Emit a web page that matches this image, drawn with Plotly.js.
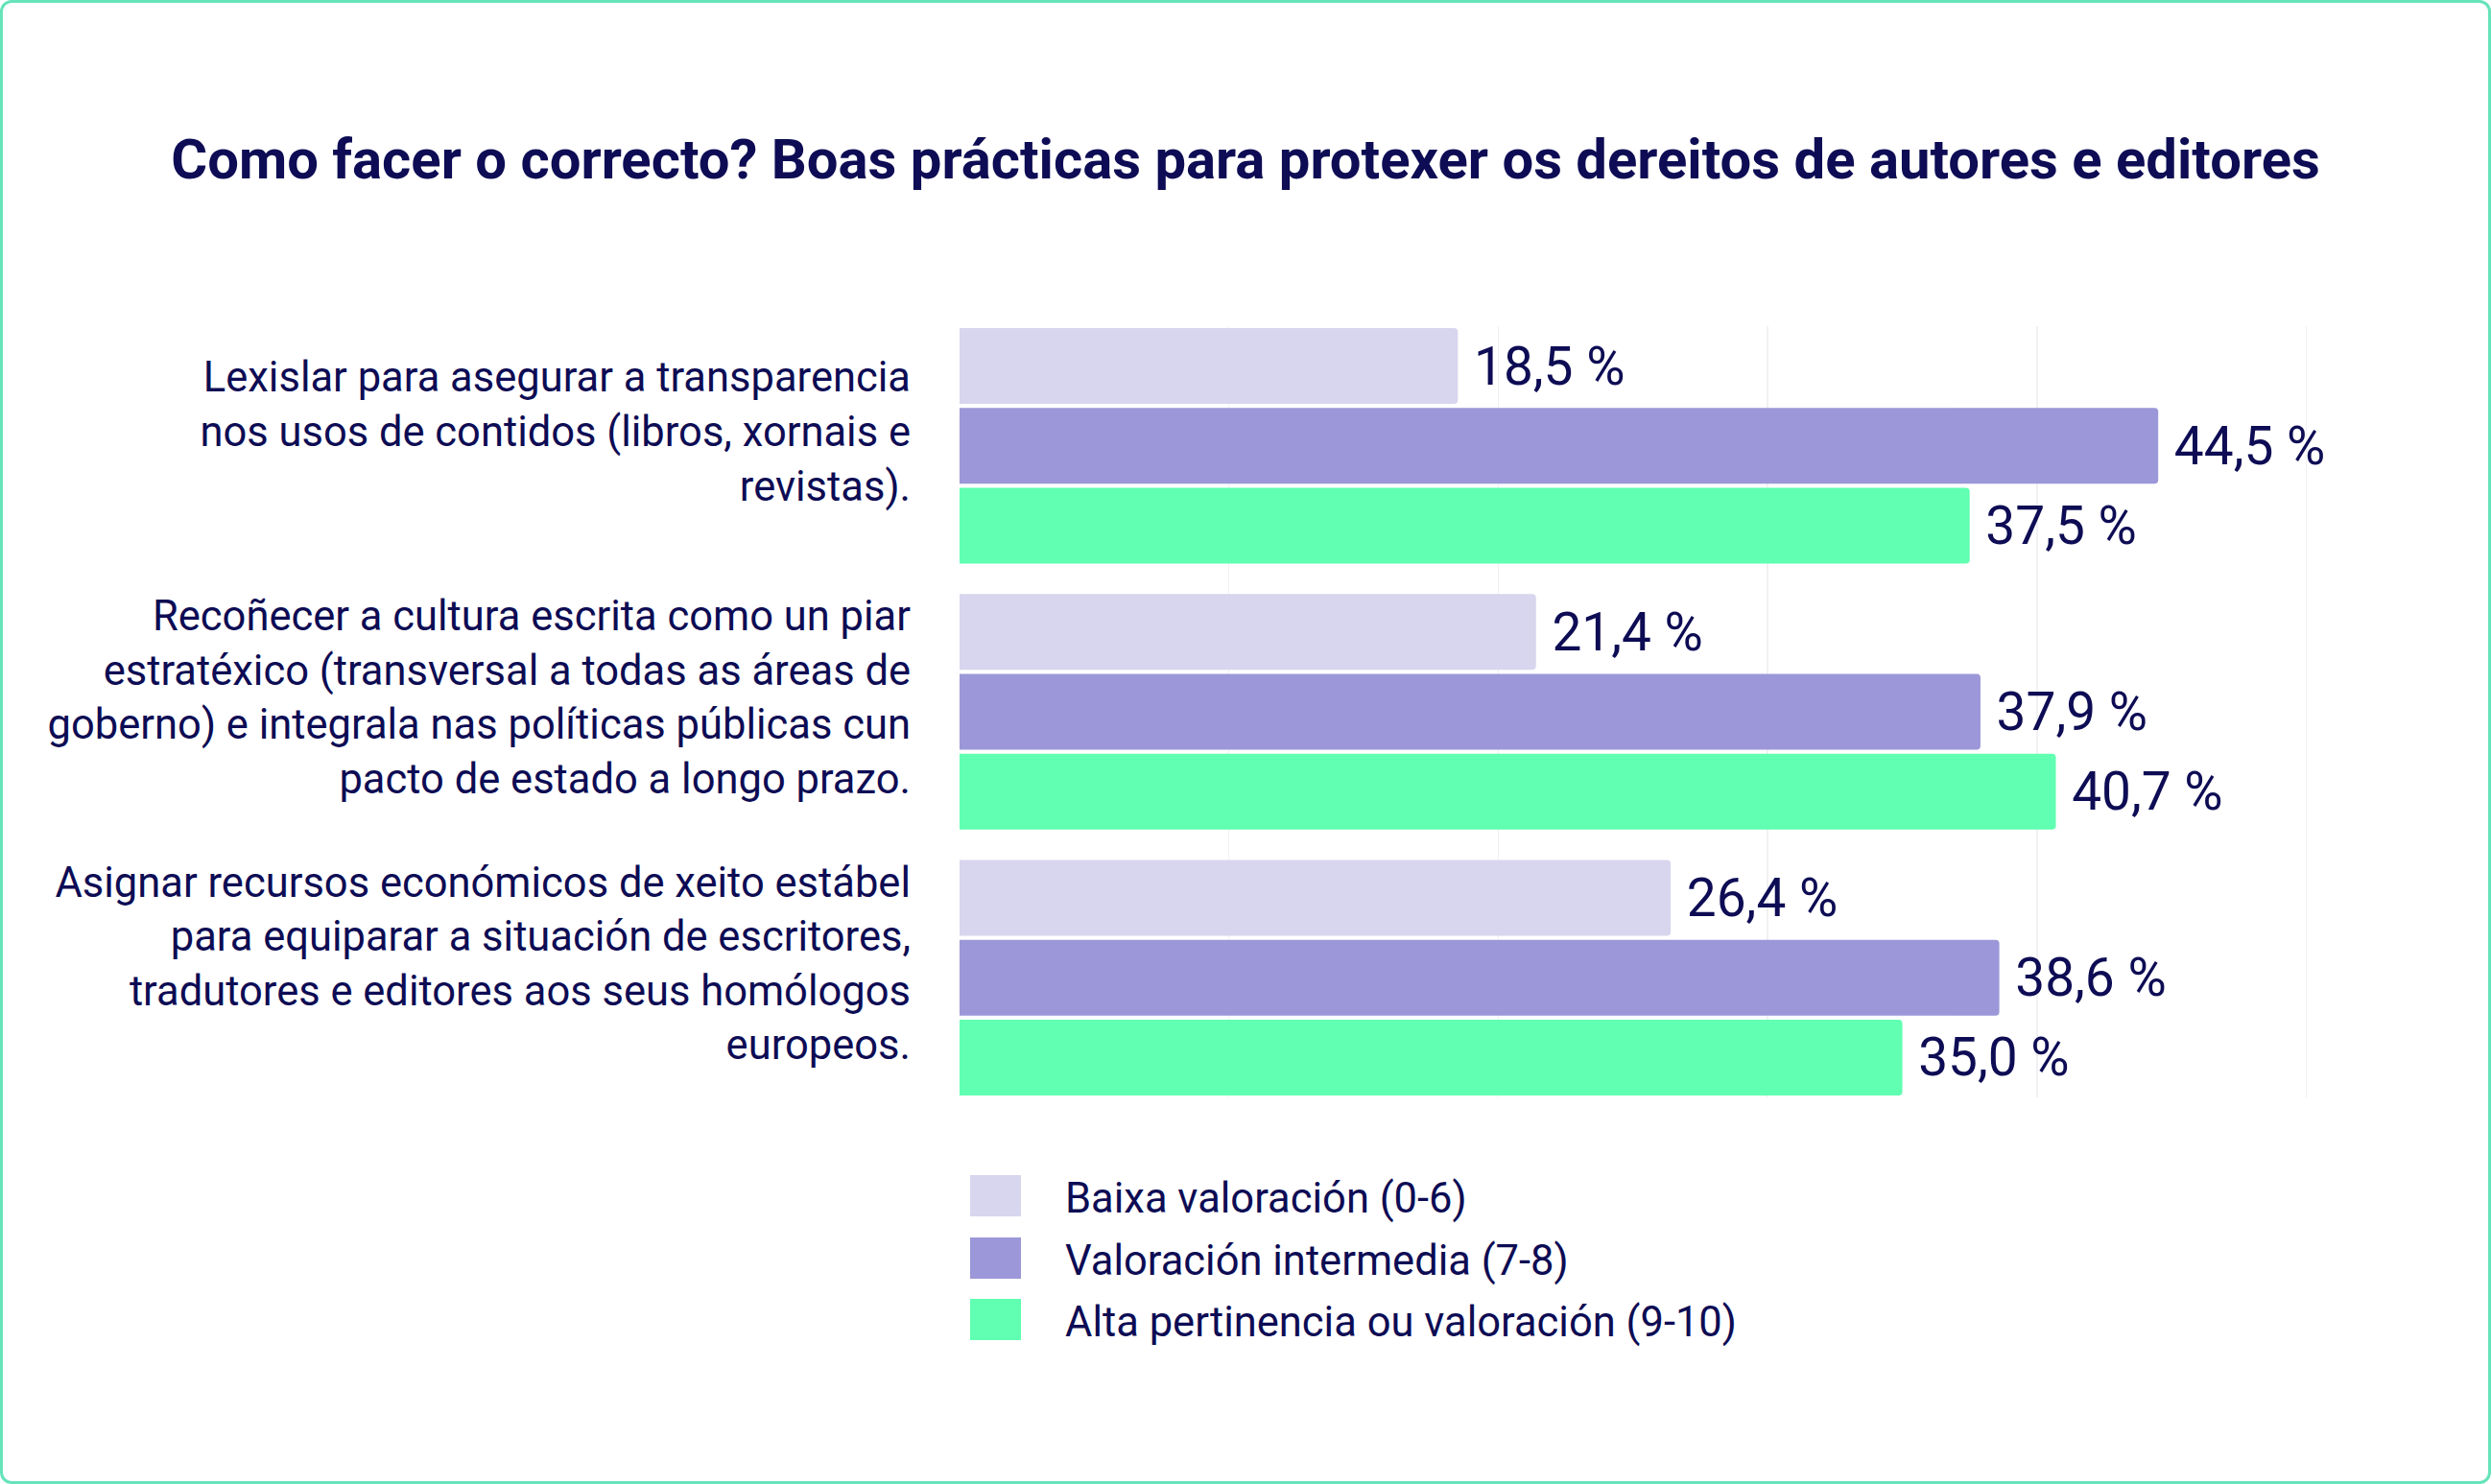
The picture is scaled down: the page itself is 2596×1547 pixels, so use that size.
<!DOCTYPE html>
<html>
<head>
<meta charset="utf-8">
<script src="https://cdn.plot.ly/plotly-3.0.1.min.js"></script>
<style>
  html, body { margin: 0; padding: 0; background: #ffffff; overflow: hidden; }
  #wrap { position: relative; width: 2596px; height: 1547px; }
  #chart { position: absolute; left: 0; top: 0; width: 2596px; height: 1547px; }
  #frame { position: absolute; left: 0; top: 0; width: 2596px; height: 1547px; box-sizing: border-box;
           border: 3px solid #66e3bb; border-radius: 12px; pointer-events: none; }
</style>
</head>
<body>
<div id="wrap"><div id="chart"></div><div id="frame"></div></div>
<script>
const titleText = 'Como facer o correcto? Boas prácticas para protexer os dereitos de autores e editores';
const categories = [
  'Lexislar para asegurar a transparencia<br>nos usos de contidos (libros, xornais e<br>revistas).',
  'Recoñecer a cultura escrita como un piar<br>estratéxico (transversal a todas as áreas de<br>goberno) e integrala nas políticas públicas cun<br>pacto de estado a longo prazo.',
  'Asignar recursos económicos de xeito estábel<br>para equiparar a situación de escritores,<br>tradutores e editores aos seus homólogos<br>europeos.'
];
const seriesNames = ['Baixa valoración (0-6)', 'Valoración intermedia (7-8)', 'Alta pertinencia ou valoración (9-10)'];
const baixa = [18.5, 21.4, 26.4];
const intermedia = [44.5, 37.9, 38.6];
const alta = [37.5, 40.7, 35.0];
const seriesValues = [baixa, intermedia, alta];
const seriesColors = ['#d8d5ee', '#9b97d8', '#60ffb1'];

const navy = '#0d0c54';
const W = 2596, H = 1547;
const M = { l: 1000, r: 191, t: 340, b: 403 };
const PW = W - M.l - M.r, PH = H - M.t - M.b;
const px2x = p => (p - M.l) / PW;
const py2y = p => (H - M.b - p) / PH;

const traces = seriesNames.map((name, i) => ({
  type: 'bar',
  orientation: 'h',
  name: name,
  y: categories,
  x: seriesValues[i],
  marker: { color: seriesColors[i], line: { width: 0 } },
  texttemplate: '\u00a0%{x:.1f} %',
  textposition: 'outside',
  constraintext: 'none',
  cliponaxis: false,
  textfont: { family: 'Roboto', size: 55, color: navy },
  hoverinfo: 'skip',
  showlegend: false
}));

// manual legend (large swatches)
const legendTop = [1225, 1290, 1354];
const shapes = [];
const annotations = [];
seriesNames.forEach((name, i) => {
  shapes.push({
    type: 'rect', xref: 'paper', yref: 'paper',
    x0: px2x(1011), x1: px2x(1064),
    y0: py2y(legendTop[i] + 43), y1: py2y(legendTop[i]),
    fillcolor: seriesColors[i], line: { width: 0 }
  });
  annotations.push({
    xref: 'paper', yref: 'paper',
    x: px2x(1108), y: py2y(legendTop[i] + 24),
    xanchor: 'left', yanchor: 'middle',
    text: name, showarrow: false,
    font: { family: 'Roboto', size: 43.5, color: navy }
  });
});

const layout = {
  width: W, height: H,
  margin: M,
  paper_bgcolor: '#ffffff',
  plot_bgcolor: '#ffffff',
  separators: ', ',
  barmode: 'group',
  bargap: 0.1,
  bargroupgap: 0.05,
  barcornerradius: 4,
  showlegend: false,
  title: {
    text: titleText,
    font: { family: 'Roboto', size: 58, weight: 700, color: navy },
    xref: 'container', x: 0.5, xanchor: 'center',
    yref: 'container', y: 1 - 166 / H, yanchor: 'middle'
  },
  xaxis: {
    range: [0, 50.05],
    tickvals: [10, 20, 30, 40, 50],
    showgrid: true,
    gridcolor: '#f1f1f4',
    gridwidth: 1.5,
    zeroline: false,
    showticklabels: false,
    showline: false,
    fixedrange: true
  },
  yaxis: {
    type: 'category',
    range: [2.45, -0.45],
    showgrid: false,
    zeroline: false,
    showline: false,
    ticks: '',
    ticklabelstandoff: 50,
    ticklabelshift: 15,
    tickfont: { family: 'Roboto', size: 43.5, color: navy },
    fixedrange: true
  },
  shapes: shapes,
  annotations: annotations
};

Plotly.newPlot('chart', traces, layout, { staticPlot: true, displayModeBar: false });
</script>
</body>
</html>
